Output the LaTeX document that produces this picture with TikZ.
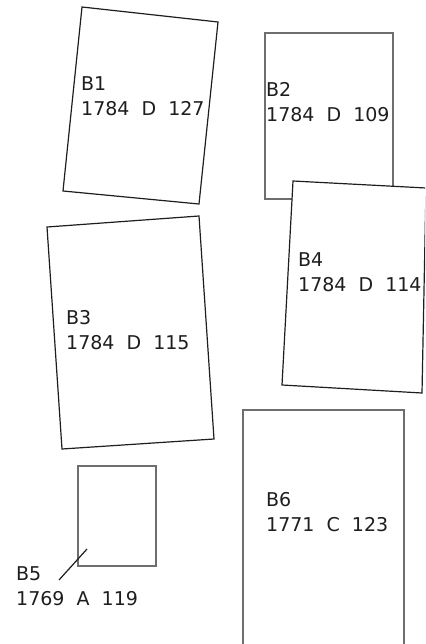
\documentclass[tikz,border=0pt]{standalone}
\usepackage{fontspec}
\setmainfont{DejaVu Sans}
\usepackage{tikz}
\usetikzlibrary{positioning, calc}
\definecolor{sheetgrey}{RGB}{110,110,110}
\definecolor{sheetdark}{RGB}{30,30,30}

\begin{document}
\begin{tikzpicture}[
    x=1pt, y=-1pt,
    sheet/.style={draw=sheetdark, line width=1.2pt, fill=white, line join=miter},
    plate/.style={draw=sheetgrey, line width=1.7pt, fill=white},
    tag/.style={anchor=base west, align=left, inner sep=0pt, text=sheetdark, font=\fontsize{19}{25}\selectfont}
]
\useasboundingbox (0,0) rectangle (425,644);
\clip (0,0) rectangle (425,644);

% outlines
\draw[sheet] (82,7) -- (218,22) -- (199,204) -- (63,191) -- cycle;
\draw[plate] (265,33) rectangle (393,199);
\draw[sheet] (47,227) -- (199,216) -- (214,439) -- (62,449) -- cycle;
\draw[sheet] (293,181) -- (426,188) -- (422,393) -- (282,385) -- cycle;
\draw[plate] (78,466) rectangle (156,566);
\draw[plate] (243,410) rectangle (404,650);

% labels (anchored at the last line)
\node[tag] (b1) at (81,116)  {B1\\1784\ \ D\ \ 127};
\node[tag] (b2) at (266,122) {B2\\1784\ \ D\ \ 109};
\node[tag] (b3) at (66,349)  {B3\\1784\ \ D\ \ 115};
\node[tag] (b4) at (298,291) {B4\\1784\ \ D\ \ 114};
\node[tag] (b5) at (16,605)  {B5\\1769\ \ A\ \ 119};
\node[tag] (b6) at (266,531) {B6\\1771\ \ C\ \ 123};

\coordinate (b5pin) at (87,549);
\coordinate (b5end) at (59,580);
\draw[sheetdark, line width=1.2pt] (b5pin) -- (b5end);
\end{tikzpicture}
\end{document}
